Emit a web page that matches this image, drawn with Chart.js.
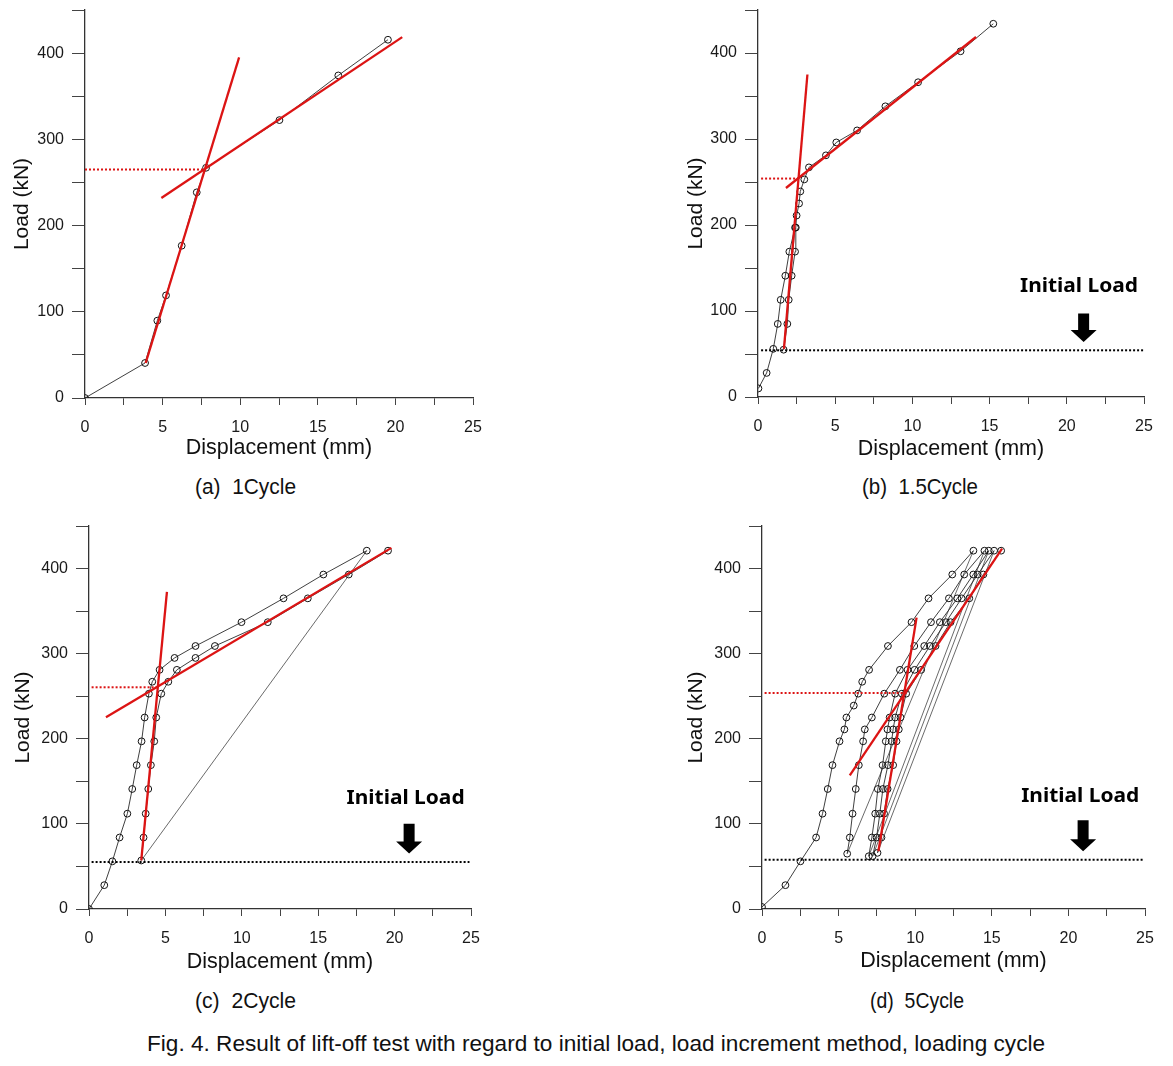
<!DOCTYPE html>
<html>
<head>
<meta charset="utf-8">
<title>Lift-off test results</title>
<script src="https://cdn.jsdelivr.net/npm/chart.js@4.4.1/dist/chart.umd.min.js"></script>
<style>
  body { margin: 0; background: #fff; }
  #page { position: relative; width: 1173px; height: 1066px; background: #fff; overflow: hidden; }
  .panel { position: absolute; }
  .panel canvas { display: block; }
  .cap { position: absolute; white-space: pre; font-family: 'Liberation Sans', Arial, sans-serif;
         font-size: 22px; line-height: 1; color: #111; transform-origin: left center; }
</style>
</head>
<body>
<div id="page">
  <div class="panel" id="wrap-a"><canvas id="chart-a"></canvas></div>
  <div class="panel" id="wrap-b"><canvas id="chart-b"></canvas></div>
  <div class="panel" id="wrap-c"><canvas id="chart-c"></canvas></div>
  <div class="panel" id="wrap-d"><canvas id="chart-d"></canvas></div>
</div>
<script>
// ---- axis ticks ----
const xTickLabels = [0, 5, 10, 15, 20, 25];
const yTickLabels = [0, 100, 200, 300, 400];

// ---- (a) 1 cycle ----
const aLoadX = [0, 3.87, 4.66, 5.22, 6.23, 7.20, 7.80, 12.53, 16.32, 19.52];
const aLoadY = [0, 40.6, 89.7, 119, 176.6, 238.5, 267, 322.3, 374.1, 415.5];
const aSteepX = [3.91, 9.93];
const aSteepY = [40.6, 395];
const aFlatX = [4.92, 20.44];
const aFlatY = [231.9, 418.5];
const aYieldX = [0, 7.8];
const aYieldY = [265, 265];

// ---- (b) 1.5 cycle ----
const bLoadX = [0.03, 0.56, 0.99, 1.28, 1.47, 1.77, 2.03, 2.4];
const bLoadY = [10, 28, 56, 85, 113, 141, 169, 197];
const bUnloadX = [2.4, 1.66];
const bUnloadY = [197, 55];
const bReloadX = [1.66, 1.90, 1.99, 2.18, 2.40, 2.45, 2.5, 2.66, 2.74, 3.0, 3.3, 4.4, 5.07, 6.42, 8.25, 10.37, 13.12, 15.24];
const bReloadY = [55, 85, 113, 141, 169, 197, 211, 225, 239, 253, 267, 281, 296, 310, 338, 366, 402, 434];
const bSteepX = [1.68, 3.2];
const bSteepY = [56, 375];
const bFlatX = [1.81, 14.12];
const bFlatY = [243, 418.6];
const bYieldX = [0.2, 2.6];
const bYieldY = [254, 254];
const bInitX = [0.2, 25];
const bInitY = [54.3, 54.3];

// ---- (c) 2 cycle ----
const cLoadX = [0, 1.0, 1.53, 2.0, 2.51, 2.83, 3.12, 3.44, 3.64, 3.92, 4.14, 4.62, 5.6, 6.97, 9.98, 12.73, 15.34, 18.18];
const cLoadY = [0, 28, 56, 84, 112, 141, 169, 197, 225, 253, 267, 281, 295, 309, 337, 365, 393, 421];
const cUnloadX = [18.18, 3.42];
const cUnloadY = [421, 57];
const cReloadX = [3.42, 3.57, 3.71, 3.88, 4.05, 4.27, 4.40, 4.73, 5.19, 5.75, 6.97, 8.24, 11.7, 14.32, 17.0, 19.57];
const cReloadY = [57, 84, 112, 141, 169, 197, 225, 253, 267, 281, 295, 309, 337, 365, 393, 421];
const cSteepX = [3.42, 5.1];
const cSteepY = [57.2, 372.6];
const cFlatX = [1.11, 19.79];
const cFlatY = [225.3, 424.3];
const cYieldX = [0.17, 4.42];
const cYieldY = [260.5, 260.5];
const cInitX = [0.17, 24.9];
const cInitY = [55.2, 55.2];

// ---- (d) 5 cycle ----
const dLoad1X = [0, 1.53, 2.51, 3.53, 3.95, 4.29, 4.6, 5.06, 5.38, 5.51, 5.99, 6.28, 6.54, 6.99, 8.22, 9.76, 10.87, 12.42, 13.8];
const dLoad1Y = [2.4, 28, 56, 84, 112, 141, 169, 197, 211, 225, 239, 253, 267, 281, 309, 337, 365, 393, 421];
const dLoad2X = [5.56, 5.73, 5.91, 6.12, 6.32, 6.6, 6.71, 7.17, 7.98, 9.0, 9.94, 11.03, 12.2, 13.2, 14.52];
const dLoad3X = [6.97, 7.17, 7.39, 7.56, 7.87, 8.08, 8.19, 8.33, 8.69, 9.5, 10.59, 11.61, 12.75, 13.79, 14.8];
const dLoad4X = [7.22, 7.48, 7.69, 7.89, 8.22, 8.46, 8.56, 8.69, 9.13, 9.96, 10.96, 12.0, 13.03, 14.08, 15.15];
const dLoad5X = [7.54, 7.8, 7.97, 8.2, 8.56, 8.78, 8.93, 9.04, 9.41, 10.39, 11.33, 12.31, 13.53, 14.45, 15.61];
const dReloadY2 = [65, 84, 112, 141, 169, 197, 211, 225, 253, 281, 309, 337, 365, 393, 421];
const dReloadY3 = [62, 84, 112, 141, 169, 197, 211, 225, 253, 281, 309, 337, 365, 393, 421];
const dReloadY5 = [66, 84, 112, 141, 169, 197, 211, 225, 253, 281, 309, 337, 365, 393, 421];
const dUnload1X = [13.8, 5.56];
const dUnload1Y = [421, 65];
const dUnload2X = [14.52, 6.97];
const dUnload2Y = [421, 62];
const dUnload3X = [14.8, 7.22];
const dUnload3Y = [421, 62];
const dUnload4X = [15.15, 7.54];
const dUnload4Y = [421, 66];
const dSteepX = [7.6, 10.09];
const dSteepY = [67.8, 342.4];
const dFlatX = [5.73, 15.67];
const dFlatY = [157, 423.5];
const dYieldX = [0.17, 9.44];
const dYieldY = [253.7, 253.7];
const dInitX = [0.17, 24.95];
const dInitY = [58, 58];

// "Initial Load" label [x, y] and arrow [x, top, tip] in data units
const bLabel = [20.79, 128.4];
const bArrow = [21.09, 97, 64];
const cLabel = [20.72, 129.7];
const cArrow = [20.95, 100.3, 65.1];
const dLabel = [20.77, 132.4];
const dArrow = [20.96, 104.2, 67.8];

const captions = [
  ['(a)  1Cycle', 195, 475.6, 101],
  ['(b)  1.5Cycle', 862, 475.6, 116],
  ['(c)  2Cycle', 195, 990.3, 101],
  ['(d)  5Cycle', 870, 990.3, 94],
  ['Fig. 4. Result of lift-off test with regard to initial load, load increment method, loading cycle', 147, 1032.5, 898]
];

const RED = '#dc1414';
const INK = '#2a2a2a';
const Y_AXIS_W = 85, PAD_TOP = 20, PAD_RIGHT = 25, X_AXIS_H = 75;

Chart.defaults.font.family = "'Liberation Sans', Arial, sans-serif";
Chart.defaults.color = '#111';

function pts(xs, ys) {
  return xs.map((x, i) => ({ x: x, y: ys[i] }));
}
function curve(xs, ys) {
  return { data: pts(xs, ys), showLine: true, borderColor: INK, borderWidth: 0.9,
    pointRadius: 3.4, pointBorderColor: '#111', pointBorderWidth: 1,
    pointBackgroundColor: 'rgba(0,0,0,0)', order: 3 };
}
function thin(xs, ys) {
  return { data: pts(xs, ys), showLine: true, borderColor: INK, borderWidth: 0.7,
    pointRadius: 0, order: 3 };
}
function redLine(xs, ys) {
  return { data: pts(xs, ys), showLine: true, borderColor: RED, borderWidth: 2.3,
    pointRadius: 0, order: 0 };
}
function dotted(xs, ys, color) {
  return { data: pts(xs, ys), showLine: true, borderColor: color, borderWidth: 2,
    borderDash: [2, 2], pointRadius: 0, order: 1 };
}

// arrow + "Initial Load" text, placed through the chart scales
const initialLoadPlugin = {
  id: 'initialLoad',
  afterDatasetsDraw(chart, args, opts) {
    if (!opts.label) return;
    const xs = chart.scales.x, ys = chart.scales.y, ctx = chart.ctx;
    ctx.save();
    ctx.font = 'bold 20px "Noto Sans", "Liberation Sans", sans-serif';
    ctx.fillStyle = '#000';
    ctx.textAlign = 'center';
    ctx.textBaseline = 'middle';
    const tx = xs.getPixelForValue(opts.label[0]);
    const ty = ys.getPixelForValue(opts.label[1]);
    const text = 'Initial Load';
    const w = ctx.measureText(text).width;
    ctx.translate(tx, ty);
    ctx.scale(118 / w, 1);
    ctx.fillText(text, 0, 0);
    ctx.restore();

    const ax = xs.getPixelForValue(opts.arrow[0]);
    const top = ys.getPixelForValue(opts.arrow[1]);
    const tip = ys.getPixelForValue(opts.arrow[2]);
    const headH = 12, shaftW = 5.5, headW = 13;
    ctx.save();
    ctx.fillStyle = '#000';
    ctx.beginPath();
    ctx.moveTo(ax - shaftW, top);
    ctx.lineTo(ax + shaftW, top);
    ctx.lineTo(ax + shaftW, tip - headH);
    ctx.lineTo(ax + headW, tip - headH);
    ctx.lineTo(ax, tip);
    ctx.lineTo(ax - headW, tip - headH);
    ctx.lineTo(ax - shaftW, tip - headH);
    ctx.closePath();
    ctx.fill();
    ctx.restore();
  }
};

function makePanel(key, area, datasets, extra) {
  const wrap = document.getElementById('wrap-' + key);
  const canvas = document.getElementById('chart-' + key);
  const w = area.right - area.left + Y_AXIS_W + PAD_RIGHT;
  const h = area.bottom - area.top + PAD_TOP + X_AXIS_H;
  wrap.style.left = (area.left - Y_AXIS_W) + 'px';
  wrap.style.top = (area.top - PAD_TOP) + 'px';
  canvas.width = w; canvas.height = h;
  canvas.style.width = w + 'px'; canvas.style.height = h + 'px';

  return new Chart(canvas, {
    type: 'scatter',
    data: { datasets: datasets },
    options: {
      responsive: false,
      animation: false,
      layout: { padding: { left: 0, top: PAD_TOP, right: PAD_RIGHT, bottom: 0 } },
      plugins: {
        legend: { display: false },
        tooltip: { enabled: false },
        initialLoad: extra
      },
      scales: {
        x: {
          type: 'linear', min: 0, max: 25,
          afterFit: s => { s.height = X_AXIS_H; },
          ticks: { stepSize: 2.5, autoSkip: false, maxRotation: 0, padding: 13,
            font: { size: 16 }, color: '#1a1a1a',
            callback: v => xTickLabels.includes(v) ? String(v) : '' },
          grid: { drawOnChartArea: false, drawTicks: true, tickLength: 7, color: '#444', lineWidth: 1 },
          border: { display: true, color: '#333', width: 1.3 },
          title: { display: true, text: 'Displacement (mm)', font: { size: 21.5 }, color: '#111',
            padding: { top: 0, bottom: extra.xTitlePad } }
        },
        y: {
          type: 'linear', min: 0, max: 450,
          afterFit: s => { s.width = Y_AXIS_W; },
          ticks: { stepSize: 50, autoSkip: false, padding: 8,
            font: { size: 16 }, color: '#1a1a1a',
            callback: v => yTickLabels.includes(v) ? String(v) : '' },
          grid: { drawOnChartArea: false, drawTicks: true, tickLength: 13, color: '#444', lineWidth: 1 },
          border: { display: true, color: '#333', width: 1.3 },
          title: { display: true, text: 'Load (kN)', font: { size: 21 }, color: '#111',
            padding: { top: extra.yTitlePad, bottom: 0 } }
        }
      }
    },
    plugins: [initialLoadPlugin]
  });
}

makePanel('a', { left: 85, right: 473, top: 10, bottom: 398 }, [
  redLine(aSteepX, aSteepY),
  redLine(aFlatX, aFlatY),
  dotted(aYieldX, aYieldY, RED),
  curve(aLoadX, aLoadY)
], { xTitlePad: 12, yTitlePad: 10 });

makePanel('b', { left: 758, right: 1144, top: 10, bottom: 397 }, [
  redLine(bSteepX, bSteepY),
  redLine(bFlatX, bFlatY),
  dotted(bYieldX, bYieldY, RED),
  dotted(bInitX, bInitY, '#000'),
  curve(bLoadX, bLoadY),
  thin(bUnloadX, bUnloadY),
  curve(bReloadX, bReloadY)
], { xTitlePad: 10, yTitlePad: 10.5, label: bLabel, arrow: bArrow });

makePanel('c', { left: 89, right: 471, top: 526, bottom: 909 }, [
  redLine(cSteepX, cSteepY),
  redLine(cFlatX, cFlatY),
  dotted(cYieldX, cYieldY, RED),
  dotted(cInitX, cInitY, '#000'),
  curve(cLoadX, cLoadY),
  thin(cUnloadX, cUnloadY),
  curve(cReloadX, cReloadY)
], { xTitlePad: 9, yTitlePad: 7, label: cLabel, arrow: cArrow });

makePanel('d', { left: 762, right: 1145, top: 526, bottom: 909 }, [
  redLine(dSteepX, dSteepY),
  redLine(dFlatX, dFlatY),
  dotted(dYieldX, dYieldY, RED),
  dotted(dInitX, dInitY, '#000'),
  curve(dLoad1X, dLoad1Y),
  thin(dUnload1X, dUnload1Y),
  curve(dLoad2X, dReloadY2),
  thin(dUnload2X, dUnload2Y),
  curve(dLoad3X, dReloadY3),
  thin(dUnload3X, dUnload3Y),
  curve(dLoad4X, dReloadY3),
  thin(dUnload4X, dUnload4Y),
  curve(dLoad5X, dReloadY5)
], { xTitlePad: 10, yTitlePad: 7, label: dLabel, arrow: dArrow });

// captions as page text, squeezed to the reference widths
const page = document.getElementById('page');
captions.forEach(([text, left, top, width]) => {
  const el = document.createElement('div');
  el.className = 'cap';
  el.textContent = text;
  el.style.left = left + 'px';
  el.style.top = top + 'px';
  page.appendChild(el);
  const actual = el.getBoundingClientRect().width;
  el.style.transform = 'scaleX(' + (width / actual).toFixed(4) + ')';
});
</script>
</body>
</html>
